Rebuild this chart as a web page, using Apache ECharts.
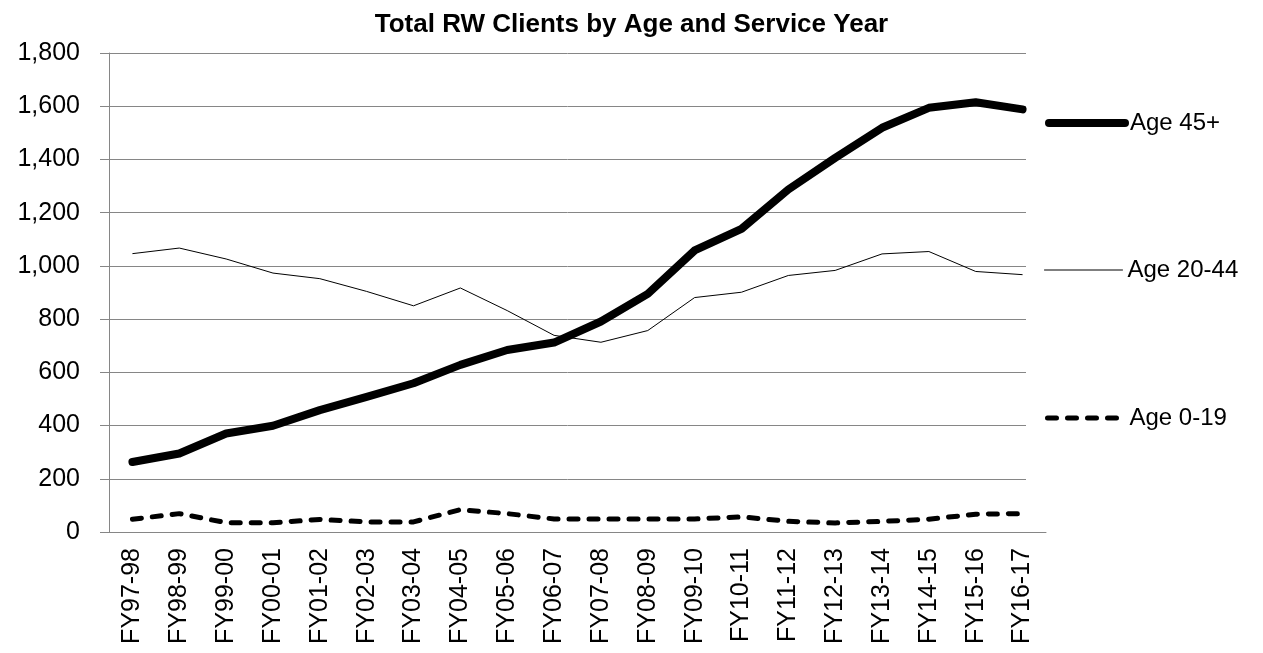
<!DOCTYPE html>
<html>
<head>
<meta charset="utf-8">
<style>
  html, body { margin: 0; padding: 0; background: #fff; }
  #chart { width: 1263px; height: 653px; }
</style>
<script src="https://cdn.jsdelivr.net/npm/echarts@6/dist/echarts.min.js"></script>
</head>
<body>
<div id="chart"></div>
<script>
// Service years on the category axis
const years = [
  'FY97-98', 'FY98-99', 'FY99-00', 'FY00-01', 'FY01-02', 'FY02-03', 'FY03-04',
  'FY04-05', 'FY05-06', 'FY06-07', 'FY07-08', 'FY08-09', 'FY09-10', 'FY10-11',
  'FY11-12', 'FY12-13', 'FY13-14', 'FY14-15', 'FY15-16', 'FY16-17'
];

// Client counts per age group
const age45plus = [263, 295, 370, 399, 458, 508, 559, 628, 684, 712,
                   791, 895, 1058, 1139, 1287, 1406, 1519, 1594, 1615, 1588];
const age20to44 = [1046, 1067, 1026, 973, 952, 904, 850, 917, 832, 739,
                   713, 757, 881, 901, 964, 983, 1045, 1054, 979, 967];
const age0to19 = [48, 69, 35, 35, 47, 38, 38, 84, 69, 49,
                  49, 49, 49, 57, 40, 34, 40, 48, 67, 69];

// Value axis ticks
const yMin = 0, yMax = 1800, yStep = 200;

const font = 'Liberation Sans, Arial, sans-serif';
const grey = '#868686';

const chart = echarts.init(document.getElementById('chart'), null, { renderer: 'canvas' });

// One legend block per series, stacked down the right-hand side
function legendAt(left, top, name, iconWidth, lineWidth) {
  return {
    orient: 'vertical',
    left: left,
    top: top,
    padding: 0,
    itemWidth: iconWidth,
    itemHeight: 14,
    selectedMode: false,
    data: [name],
    itemStyle: { opacity: 0 },
    lineStyle: { width: lineWidth, cap: 'round', join: 'round' },
    textStyle: { fontFamily: font, fontSize: 24, color: '#000' }
  };
}

chart.setOption({
  animation: false,
  backgroundColor: '#fff',
  title: {
    text: 'Total RW Clients by Age and Service Year',
    left: 'center',
    top: 7,
    textStyle: { fontFamily: font, fontSize: 26, fontWeight: 'bold', color: '#000' }
  },
  legend: [
    legendAt(1045, 111, 'Age 45+', 76, 8),
    legendAt(1044, 258, 'Age 20-44', 78, 1),
    legendAt(1045, 406, 'Age 0-19', 77, 5)
  ],
  grid: [
    // gridline panel
    { left: 109, top: 53, width: 917, bottom: 121 },
    // plotting panel
    { left: 109, top: 53, width: 937, bottom: 121 }
  ],
  xAxis: [
    {
      gridIndex: 0, type: 'category', data: years, show: false
    },
    {
      gridIndex: 1, type: 'category', data: years, boundaryGap: true,
      axisLine: { lineStyle: { color: grey, width: 1 } },
      axisTick: { show: false },
      axisLabel: {
        rotate: 90, margin: 16, interval: 0,
        fontFamily: font, fontSize: 25, color: '#000'
      },
      splitLine: { show: false }
    }
  ],
  yAxis: [
    {
      gridIndex: 0, type: 'value', min: yMin, max: yMax, interval: yStep,
      axisLine: { show: true, lineStyle: { color: grey, width: 1 } },
      axisTick: { show: true, inside: false, length: 9, lineStyle: { color: grey } },
      axisLabel: {
        margin: 29, fontFamily: font, fontSize: 25, color: '#000',
        formatter: v => v.toLocaleString('en-US')
      },
      splitLine: { show: true, lineStyle: { color: grey, width: 1 } }
    },
    {
      gridIndex: 1, type: 'value', min: yMin, max: yMax, interval: yStep,
      show: false, splitLine: { show: false }
    }
  ],
  series: [
    {
      name: 'Age 45+', type: 'line', xAxisIndex: 1, yAxisIndex: 1,
      data: age45plus, symbol: 'none', z: 4,
      lineStyle: { color: '#000', width: 8, cap: 'round', join: 'round' },
      itemStyle: { color: '#000' }
    },
    {
      name: 'Age 20-44', type: 'line', xAxisIndex: 1, yAxisIndex: 1,
      data: age20to44, symbol: 'none', z: 3,
      lineStyle: { color: '#000', width: 1 },
      itemStyle: { color: '#000' }
    },
    {
      name: 'Age 0-19', type: 'line', xAxisIndex: 1, yAxisIndex: 1,
      data: age0to19, symbol: 'none', z: 3,
      lineStyle: { color: '#000', width: 5, type: [9, 11], cap: 'round', join: 'round' },
      itemStyle: { color: '#000' }
    }
  ]
});
</script>
</body>
</html>
